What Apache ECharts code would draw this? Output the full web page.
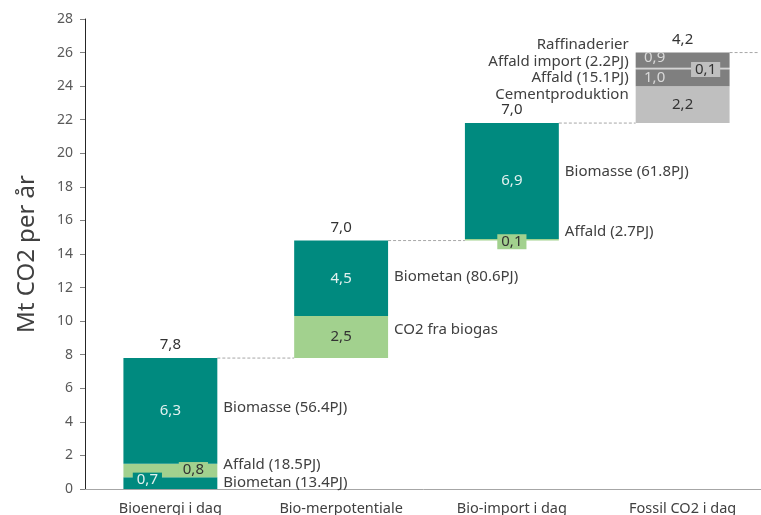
<!DOCTYPE html>
<html>
<head>
<meta charset="utf-8">
<script src="https://cdn.jsdelivr.net/npm/echarts@6/dist/echarts.min.js"></script>
<style>
  html, body { margin: 0; padding: 0; background: #fff; }
  #chart { width: 761px; height: 515px; }
</style>
</head>
<body>
<div id="chart"></div>
<script>
// columns of the waterfall
const categories = ['Bioenergi i dag', 'Bio-merpotentiale', 'Bio-import i dag', 'Fossil CO2 i dag']
const totals = [7.8, 7.0, 7.0, 4.2]

// segments, bottom to top inside each column
const segmentNames = [
  'Biometan (13.4PJ)', 'Affald (18.5PJ)', 'Biomasse (56.4PJ)',
  'CO2 fra biogas', 'Biometan (80.6PJ)',
  'Affald (2.7PJ)', 'Biomasse (61.8PJ)',
  'Cementproduktion', 'Affald (15.1PJ)', 'Affald import (2.2PJ)', 'Raffinaderier',
]
const segmentColumns = [0, 0, 0, 1, 1, 2, 2, 3, 3, 3, 3]
const segmentValues = [0.7, 0.8, 6.3, 2.5, 4.5, 0.1, 6.9, 2.2, 1.0, 0.1, 0.9]

const yMin = 0
const yMax = 28
const yStep = 2

// --- styles ---
const FONT = '"Noto Sans", "Open Sans", sans-serif'
const TEAL = '#008a7f'
const GREEN = '#a2d18e'
const DARK = '#7f7f7f'
const LIGHT = '#bfbfbf'
const BAR_WIDTH = 0.55

// per segment: fill, value label colour / box, label offset, name label nudge and side
const segmentStyle = [
  { fill: TEAL, text: '#e2f1ef', box: TEAL, offset: [-23, -3], nameDy: 0 },
  { fill: GREEN, text: '#333', box: GREEN, offset: [23, -1], nameDy: -6 },
  { fill: TEAL, text: '#e2f1ef', offset: [0, 0], nameDy: -3 },
  { fill: GREEN, text: '#333', offset: [0, 0], nameDy: -7 },
  { fill: TEAL, text: '#e2f1ef', offset: [0, 0], nameDy: -2 },
  { fill: GREEN, text: '#333', box: GREEN, offset: [0, 2], nameDy: -8 },
  { fill: TEAL, text: '#e2f1ef', offset: [0, 0], nameDy: -9 },
  { fill: LIGHT, text: '#333', offset: [0, 0], nameDy: -10, left: true },
  { fill: DARK, text: '#d9d9d9', offset: [-28, 0], nameDy: 0, left: true },
  { fill: '#d4d4d4', text: '#333', box: LIGHT, offset: [23, 1], nameDy: -7, left: true },
  { fill: DARK, text: '#d9d9d9', offset: [-28, -2], nameDy: -15, left: true },
]

const fmt = (v) => v.toFixed(1).replace('.', ',')

// bases: each column starts where the previous one ended
const bases = []
totals.reduce((acc, t, i) => { bases[i] = +acc.toFixed(2); return acc + t }, 0)

// mid value of every segment (for the side name labels)
const segmentMids = []
const running = bases.slice()
segmentValues.forEach((v, s) => {
  const c = segmentColumns[s]
  segmentMids[s] = running[c] + v / 2
  running[c] += v
})

const series = [{
  name: 'base',
  type: 'bar',
  stack: 'w',
  barWidth: BAR_WIDTH * 100 + '%',
  silent: true,
  itemStyle: { color: 'transparent' },
  data: bases,
}]

segmentValues.forEach((v, s) => {
  const st = segmentStyle[s]
  series.push({
    name: segmentNames[s],
    type: 'bar',
    stack: 'w',
    barWidth: BAR_WIDTH * 100 + '%',
    itemStyle: { color: st.fill },
    label: {
      show: true,
      position: 'inside',
      formatter: () => fmt(v),
      color: st.text,
      fontFamily: FONT,
      fontSize: 15,
      offset: st.offset,
      backgroundColor: st.box || 'transparent',
      padding: st.box ? [0, 4] : 0,
    },
    data: categories.map((_, i) => (i === segmentColumns[s] ? v : '-')),
  })
})

// segment names beside the bars
series.push({
  type: 'custom',
  silent: true,
  z: 5,
  encode: { x: 0, y: 1 },
  data: segmentMids.map((m, s) => [segmentColumns[s], m, s]),
  renderItem: (params, api) => {
    const s = api.value(2)
    const st = segmentStyle[s]
    const p = api.coord([api.value(0), api.value(1)])
    const half = api.size([1, 0])[0] * BAR_WIDTH / 2
    return {
      type: 'text',
      style: {
        text: segmentNames[s],
        x: st.left ? p[0] - half - 7 : p[0] + half + 6,
        y: p[1] + st.nameDy,
        align: st.left ? 'right' : 'left',
        verticalAlign: 'middle',
        fill: '#404040',
        fontFamily: FONT,
        fontSize: 15,
      },
    }
  },
})

// totals above each column and dashed connectors
series.push({
  type: 'custom',
  silent: true,
  z: 1,
  encode: { x: 0, y: 1 },
  data: totals.map((t, i) => [i, bases[i] + t, t]),
  renderItem: (params, api) => {
    const i = api.value(0)
    const p = api.coord([i, api.value(1)])
    const band = api.size([1, 0])[0]
    const half = band * BAR_WIDTH / 2
    const x2 = i < categories.length - 1 ? p[0] + band - half : p[0] + band / 2 - 10
    return {
      type: 'group',
      children: [
        {
          type: 'line',
          shape: { x1: p[0] + half, y1: p[1], x2: x2, y2: p[1] },
          style: { stroke: '#a6a6a6', lineWidth: 1, lineDash: [3, 2] },
        },
        {
          type: 'text',
          style: {
            text: fmt(api.value(2)),
            x: p[0],
            y: p[1] - 13,
            align: 'center',
            verticalAlign: 'middle',
            fill: '#333',
            fontFamily: FONT,
            fontSize: 15,
          },
        },
      ],
    }
  },
})

const chart = echarts.init(document.getElementById('chart'))
chart.setOption({
  animation: false,
  backgroundColor: '#fff',
  grid: { left: 85, top: 19, bottom: 26, width: 683, containLabel: false, outerBoundsMode: 'none' },
  xAxis: {
    type: 'category',
    data: categories,
    axisLine: { lineStyle: { color: '#a6a6a6', width: 1 } },
    axisTick: { show: false },
    axisLabel: { color: '#404040', fontFamily: FONT, fontSize: 14.5, margin: 12 },
  },
  yAxis: {
    type: 'value',
    min: yMin,
    max: yMax,
    interval: yStep,
    name: 'Mt CO2 per år',
    nameLocation: 'middle',
    nameGap: 46,
    nameTextStyle: { color: '#404040', fontFamily: FONT, fontSize: 24 },
    axisLine: { show: true, lineStyle: { color: '#262626', width: 1 } },
    axisTick: { show: true, length: 5, lineStyle: { color: '#808080' } },
    splitLine: { show: false },
    axisLabel: { color: '#595959', fontFamily: FONT, fontSize: 14, margin: 12 },
  },
  series: series,
})
</script>
</body>
</html>
